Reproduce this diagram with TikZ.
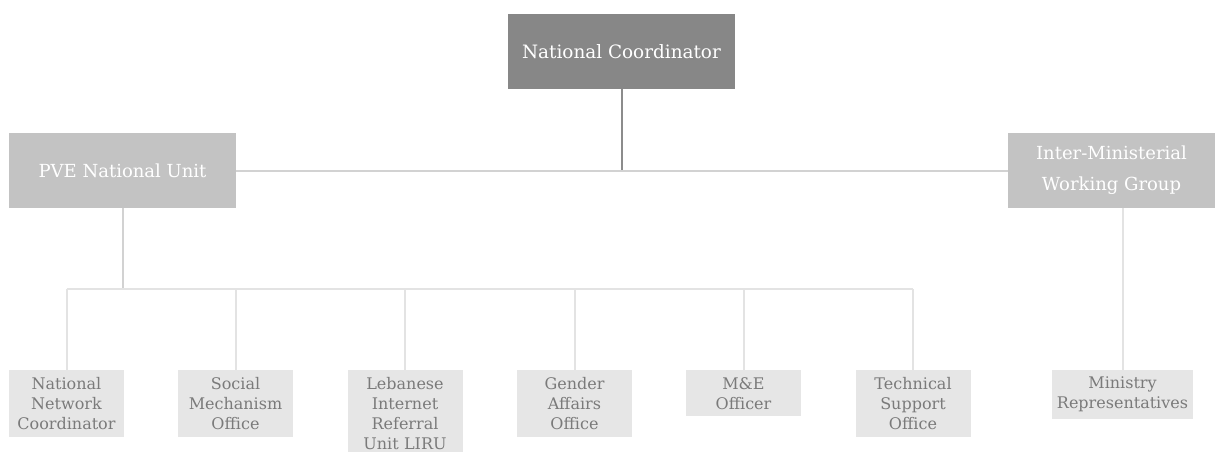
\documentclass[tikz,border=0pt]{standalone}
\usepackage{fontspec}
\setmainfont{DejaVu Serif}
\usetikzlibrary{positioning}

\definecolor{headgray}{HTML}{878787}
\definecolor{unitgray}{HTML}{C3C3C3}
\definecolor{leafgray}{HTML}{E6E6E6}
\definecolor{leaftext}{HTML}{7A7A7A}
\definecolor{darkline}{HTML}{8C8C8C}
\definecolor{midline}{HTML}{D2D2D2}
\definecolor{paleline}{HTML}{E3E3E3}

\begin{document}
\begin{tikzpicture}[x=1pt,y=-1pt,
    headbox/.style={fill=headgray,text=white,minimum width=227pt,minimum height=75pt,
        font=\fontsize{18.4}{22}\selectfont,align=center,inner sep=0pt},
    unitbox/.style={fill=unitgray,text=white,minimum height=75pt,
        font=\fontsize{18}{31}\selectfont,align=center,inner sep=0pt},
    leafbox/.style={fill=leafgray,text=leaftext,anchor=north,text width=113pt,inner xsep=1pt,
        inner ysep=7pt,font=\fontsize{16}{20}\selectfont,align=center},
    link/.style={line width=2pt}]
    \useasboundingbox (0,0) rectangle (1223,451);

    \node[headbox] (nc) at (621.5,51.5) {National Coordinator};
    \node[unitbox,minimum width=227pt] (pve) at (122.5,170.5) {PVE National Unit};
    \node[unitbox,minimum width=207pt] (imwg) at (1111.5,170.5) {Inter-Ministerial\\Working Group};

    \draw[link,darkline] (nc.south) -- (nc.south |- pve.east);
    \draw[link,midline] (pve.east) -- (imwg.west);

    % units under the PVE National Unit
    \coordinate (bus) at (0,289);
    \node[leafbox] (c1) at (66.5,370) {National\\Network\\Coordinator};
    \node[leafbox] (c2) at (235.5,370) {Social\\Mechanism\\Office};
    \node[leafbox] (c3) at (405,370) {Lebanese\\Internet\\Referral\\Unit LIRU};
    \node[leafbox] (c4) at (574.5,370) {Gender\\Affairs\\Office};
    \node[leafbox] (c5) at (743.5,370) {M\&E\\Officer};
    \node[leafbox] (c6) at (913,370) {Technical\\Support\\Office};
    \node[leafbox,text width=139pt] (mr) at (1122.5,370) {Ministry\\Representatives};

    \draw[link,midline] (pve.south) -- (pve.south |- bus);
    \draw[link,paleline] (c1.north |- bus) -- (c6.north |- bus);
    \foreach \i in {1,...,6}
        \draw[link,paleline] (c\i.north |- bus) -- (c\i.north);
    \draw[link,paleline] (imwg.south -| mr.north) -- (mr.north);
\end{tikzpicture}
\end{document}
